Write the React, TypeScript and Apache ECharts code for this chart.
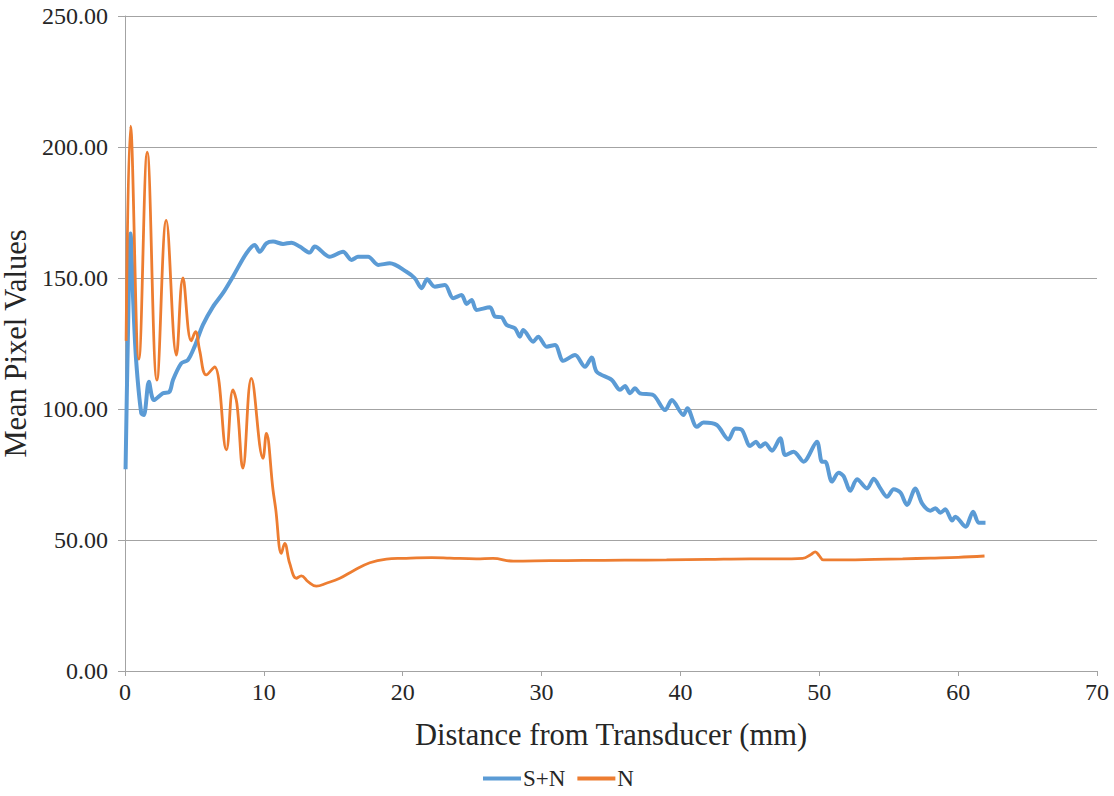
import React, { useEffect, useRef } from "react";
import * as echarts from "echarts";

const seriesNames = ["S+N", "N"];
const xTicks = { min: 0, max: 70, interval: 10 };
const yTicks = { min: 0, max: 250, interval: 50 };

// S+N: [distance (mm), mean pixel value]
const snPoints: [number, number][] = [
  [0.04, 77], [0.2, 125], [0.4, 167], [0.6, 140], [0.8, 118.7], [1.17, 98.4], [1.36, 97.7],
  [1.72, 110.4], [2.08, 103.4], [2.73, 106], [3.21, 106.6], [3.45, 111], [4.05, 117.4],
  [4.53, 118.7], [5.01, 123.8], [5.61, 132.1], [6.33, 139], [7.05, 144.2], [7.77, 150.5],
  [8.74, 159.4], [9.34, 162.6], [9.7, 160], [10.18, 163.2], [10.66, 163.9], [11.38, 163],
  [11.98, 163.5], [12.58, 162], [13.3, 159.7], [13.66, 162], [14.74, 158.1], [15.7, 160],
  [16.31, 156.9], [16.79, 158.1], [17.51, 158.1], [18.23, 155], [19.07, 155.6], [20.27, 152.4],
  [20.87, 149.9], [21.36, 146.1], [21.76, 149.5], [22.31, 146.7], [23.04, 147.3], [23.63, 142.3],
  [24.24, 143.5], [24.6, 140.1], [24.96, 141.6], [25.32, 137.8], [26.28, 138.8], [26.64, 135.3],
  [27.12, 135], [27.48, 132.1], [28.08, 130.8], [28.44, 127.6], [28.68, 130.2], [29.4, 125.7],
  [29.76, 127.6], [30.37, 123.8], [30.97, 124.4], [31.56, 118.4], [32.41, 120.6], [33.13, 116.1],
  [33.61, 119.7], [33.97, 114.2], [35.05, 111.1], [35.65, 107.3], [36.01, 108.8], [36.37, 106],
  [36.73, 107.9], [37.09, 106], [38.05, 105.3], [38.9, 99.6], [39.38, 103.4], [40.22, 97.7],
  [40.5, 100.3], [41.18, 93.2], [41.66, 94.8], [42.62, 93.9], [43.46, 88.4], [43.94, 92.6],
  [44.43, 92], [45.02, 85.9], [45.45, 87.5], [45.74, 85.6], [46.1, 86.9], [46.59, 84.1],
  [47.19, 88.8], [47.55, 82.4], [48.15, 83.7], [48.87, 79.9], [49.83, 87.5], [50.19, 79.9],
  [50.43, 79.9], [50.91, 72.3], [51.39, 75.7], [51.75, 74.4], [52.23, 68.8], [52.72, 73.2],
  [53.44, 69.7], [53.92, 73.4], [54.4, 69.7], [54.88, 66.5], [55.36, 69.4], [55.84, 68.1],
  [56.32, 63.4], [56.92, 69.7], [57.4, 64], [58.0, 61.2], [58.36, 62.1], [58.72, 60.4],
  [59.08, 61.7], [59.57, 57.4], [59.8, 58.9], [60.53, 55.1], [61.08, 60.8], [61.48, 56.6],
  [61.97, 56.6],
];

// N: [distance (mm), mean pixel value]
const nPoints: [number, number][] = [
  [0.08, 126], [0.4, 208], [1.0, 119], [1.6, 198], [2.3, 111], [2.97, 172], [3.7, 120.6],
  [4.17, 150], [4.77, 126], [5.08, 129.5], [5.37, 122.5], [5.85, 113], [6.45, 116.1],
  [7.3, 84.4], [7.77, 107.3], [8.06, 102], [8.49, 77.4], [9.1, 111.7], [9.94, 81.2],
  [10.18, 90.7], [10.66, 69.1], [10.85, 62], [11.26, 44.9], [11.5, 48.7], [11.86, 41.1],
  [12.34, 35.4], [12.7, 36.3], [13.18, 34.1], [13.78, 32.4], [14.5, 33.5], [15.47, 35.4],
  [16.42, 38.2], [17.63, 41.3], [18.83, 42.7], [20.0, 43], [22.08, 43.3], [23.4, 43.1],
  [25.3, 42.8], [26.5, 43.0], [27.96, 41.9], [30.6, 42.1], [33, 42.2], [36, 42.3], [39, 42.4],
  [42, 42.6], [45, 42.8], [47, 42.8], [48.8, 43], [49.4, 44.5], [49.71, 45.5], [50.0, 44],
  [50.3, 42.4], [52, 42.4], [54, 42.6], [56, 42.8], [58, 43.1], [60, 43.4], [61.9, 43.9],
];

const FONT = "Liberation Serif";
const GRAY = "#a3a3a3";
const TEXT = "#262626";

export default function App() {
  const ref = useRef<HTMLDivElement>(null);
  useEffect(() => {
    if (!ref.current) return;
    const chart = echarts.init(ref.current, undefined, { renderer: "svg" });
    chart.setOption({
      animation: false,
      backgroundColor: "#ffffff",
      textStyle: { fontFamily: FONT },
      grid: {
        left: 125,
        right: 17,
        top: 16,
        bottom: 125,
        containLabel: false,
        outerBoundsMode: "none",
      },
      legend: {
        data: seriesNames,
        left: 483,
        top: 767,
        padding: 0,
        icon: "rect",
        itemWidth: 38,
        itemHeight: 4,
        itemGap: 12,
        textStyle: { fontFamily: FONT, fontSize: 23, color: TEXT, padding: [0, 0, 0, -3] },
      },
      xAxis: {
        type: "value",
        min: xTicks.min,
        max: xTicks.max,
        interval: xTicks.interval,
        name: "Distance from Transducer (mm)",
        nameLocation: "middle",
        nameGap: 48,
        nameTextStyle: { fontFamily: FONT, fontSize: 30.5, color: TEXT },
        axisLine: { show: true, lineStyle: { color: GRAY, width: 1 } },
        axisTick: { show: true, length: 5, lineStyle: { color: GRAY } },
        axisLabel: { fontFamily: FONT, fontSize: 24, color: TEXT, margin: 9 },
        splitLine: { show: false },
      },
      yAxis: {
        type: "value",
        min: yTicks.min,
        max: yTicks.max,
        interval: yTicks.interval,
        name: "Mean Pixel Values",
        nameLocation: "middle",
        nameGap: 84,
        nameTextStyle: { fontFamily: FONT, fontSize: 30.5, color: TEXT },
        axisLine: { show: true, lineStyle: { color: GRAY, width: 1 } },
        axisTick: { show: true, length: 7, lineStyle: { color: GRAY } },
        axisLabel: {
          fontFamily: FONT,
          fontSize: 24,
          color: TEXT,
          margin: 17,
          formatter: (v: number) => v.toFixed(2),
        },
        splitLine: { show: true, lineStyle: { color: GRAY, width: 1 } },
      },
      series: [
        {
          name: seriesNames[0],
          type: "line",
          data: snPoints,
          showSymbol: false,
          smooth: 0.3,
          lineStyle: { color: "#5B9BD5", width: 4 },
          itemStyle: { color: "#5B9BD5" },
          z: 2,
        },
        {
          name: seriesNames[1],
          type: "line",
          data: nPoints,
          showSymbol: false,
          smooth: 0.4,
          lineStyle: { color: "#ED7D31", width: 2.8 },
          itemStyle: { color: "#ED7D31" },
          z: 3,
        },
      ],
    });
    return () => chart.dispose();
  }, []);
  return (
    <div
      ref={ref}
      style={{ position: "fixed", left: 0, top: 0, width: 1114, height: 796, background: "#fff" }}
    />
  );
}
